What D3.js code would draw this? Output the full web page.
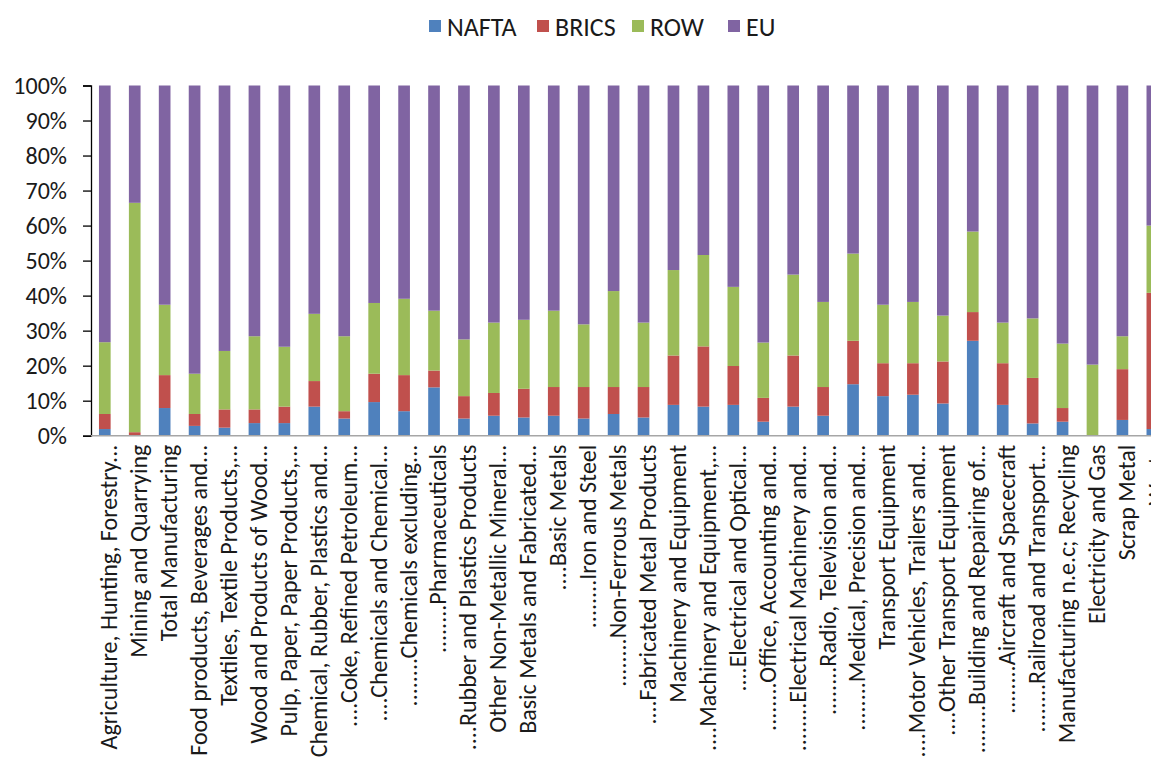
<!DOCTYPE html>
<html>
<head>
<meta charset="utf-8">
<script src="https://cdn.jsdelivr.net/npm/d3@7"></script>
<style>
  html, body { margin: 0; padding: 0; background: #fff; overflow: hidden; }
  svg { display: block; font-family: Calibri, Carlito, "Open Sans", sans-serif; }
</style>
</head>
<body>
<svg id="chart" width="1151" height="764"></svg>
<script>
const categories = [
  "Agriculture, Hunting, Forestry...",
  "Mining and Quarrying",
  "Total Manufacturing",
  "Food products, Beverages and...",
  "Textiles, Textile Products,...",
  "Wood and Products of Wood...",
  "Pulp, Paper, Paper Products,...",
  "Chemical, Rubber, Plastics and...",
  "....Coke, Refined Petroleum...",
  "....Chemicals and Chemical...",
  "........Chemicals excluding...",
  "........Pharmaceuticals",
  "....Rubber and Plastics Products",
  "Other Non-Metallic Mineral...",
  "Basic Metals and Fabricated...",
  "....Basic Metals",
  "........Iron and Steel",
  "........Non-Ferrous Metals",
  "....Fabricated Metal Products",
  "Machinery and Equipment",
  "....Machinery and Equipment,...",
  "....Electrical and Optical...",
  "........Office, Accounting and...",
  "........Electrical Machinery and...",
  "........Radio, Television and...",
  "........Medical, Precision and...",
  "Transport Equipment",
  "....Motor Vehicles, Trailers and...",
  "....Other Transport Equipment",
  "........Building and Repairing of...",
  "........Aircraft and Spacecraft",
  "........Railroad and Transport...",
  "Manufacturing n.e.c; Recycling",
  "Electricity and Gas",
  "Scrap Metal",
  "Waste"
];
const seriesNames = ["NAFTA", "BRICS", "ROW", "EU"];
const seriesColors = ["#4F81BD", "#C0504D", "#9BBB59", "#8064A2"];

// shares in percent
const NAFTA = [1.9, 0.0, 7.9, 2.8, 2.3, 3.6, 3.6, 8.3, 4.9, 9.6, 7.0, 13.8, 4.9, 5.7, 5.2, 5.7, 4.9, 6.2, 5.2, 8.8, 8.3, 8.8, 4.0, 8.3, 5.7, 14.7, 11.3, 11.7, 9.2, 27.1, 8.8, 3.5, 4.0, 0.0, 4.5, 1.9];
const BRICS = [4.3, 1.0, 9.4, 3.4, 5.2, 3.9, 4.7, 7.3, 2.1, 8.1, 10.3, 4.8, 6.4, 6.5, 8.2, 8.2, 9.0, 7.7, 8.7, 14.1, 17.2, 11.1, 6.8, 14.6, 8.2, 12.4, 9.4, 9.0, 12.0, 8.2, 11.9, 13.0, 3.9, 0.0, 14.5, 38.9];
const ROW = [20.5, 65.5, 20.1, 11.5, 16.7, 20.9, 17.1, 19.2, 21.4, 20.2, 21.8, 17.1, 16.2, 20.1, 19.7, 21.8, 17.9, 27.4, 18.4, 24.4, 26.1, 22.6, 15.8, 23.1, 24.3, 24.9, 16.7, 17.5, 13.1, 23.0, 11.6, 17.0, 18.4, 20.3, 9.4, 19.2];
const EU = [73.3, 33.5, 62.6, 82.3, 75.8, 71.6, 74.6, 65.2, 71.6, 62.1, 60.9, 64.3, 72.5, 67.7, 66.9, 64.3, 68.2, 58.7, 67.7, 52.7, 48.4, 57.5, 73.4, 54.0, 61.8, 48.0, 62.6, 61.8, 65.7, 41.7, 67.7, 66.5, 73.7, 79.7, 71.6, 40.0];
const yTicks = [0, 10, 20, 30, 40, 50, 60, 70, 80, 90, 100];

const seriesValues = [NAFTA, BRICS, ROW, EU];
const rows = categories.map((c, i) => {
  const r = { cat: c };
  seriesNames.forEach((s, k) => r[s] = seriesValues[k][i]);
  return r;
});
const stacked = d3.stack().keys(seriesNames).offset(d3.stackOffsetExpand)(rows);

const svg = d3.select("#chart");
const mLeft = 91, mTop = 85.5, mBottom = 435.7, step = 29.93;
const pIn = 0.61, pOut = 0.266;
const xEnd = mLeft + step * (categories.length - pIn + 2 * pOut);

const x = d3.scaleBand()
  .domain(categories)
  .range([mLeft, xEnd])
  .paddingInner(pIn).paddingOuter(pOut);
const y = d3.scaleLinear().domain([0, 1]).range([mBottom, mTop]);

// bars
svg.append("g").selectAll("g")
  .data(stacked).join("g")
  .attr("fill", (d, i) => seriesColors[i])
  .selectAll("rect")
  .data(d => d).join("rect")
  .attr("x", d => x(d.data.cat))
  .attr("width", x.bandwidth())
  .attr("y", d => y(d[1]))
  .attr("height", d => Math.max(0, y(d[0]) - y(d[1])));

// y axis
const yAxis = d3.axisLeft(y)
  .tickValues(yTicks.map(v => v / 100))
  .tickFormat(d => Math.round(d * 100) + "%")
  .tickSize(8).tickPadding(16);
const gy = svg.append("g").attr("transform", `translate(${mLeft},0)`).call(yAxis);
gy.select(".domain").attr("stroke", "#000").attr("stroke-width", 1.3);
gy.selectAll(".tick line").attr("stroke", "#000").attr("stroke-width", 1.3);
gy.selectAll(".tick text").attr("font-size", 24).attr("fill", "#1a1a1a")
  .attr("font-family", "Calibri, Carlito, 'Open Sans', sans-serif");

// x axis
const xAxis = d3.axisBottom(x).tickSize(0).tickPadding(10);
const gx = svg.append("g").attr("transform", `translate(0,${mBottom})`).call(xAxis);
gx.select(".domain").attr("stroke", "#a6a6a6").attr("stroke-width", 1.5)
  .attr("d", `M${mLeft},0H${xEnd}`);
gx.selectAll(".tick text")
  .attr("font-size", 24)
  .attr("fill", "#1a1a1a")
  .attr("font-family", "Calibri, Carlito, 'Open Sans', sans-serif")
  .attr("text-anchor", "end")
  .attr("transform", "rotate(-90)")
  .attr("x", -9)
  .attr("y", 4)
  .attr("dy", "0.35em");

// legend
const legendX = [429, 537, 632, 728];
const lg = svg.append("g");
seriesNames.forEach((s, i) => {
  lg.append("rect").attr("x", legendX[i]).attr("y", 20).attr("width", 12).attr("height", 12)
    .attr("fill", seriesColors[i]);
  lg.append("text").attr("x", legendX[i] + 18).attr("y", 26.5).attr("dy", "0.35em")
    .attr("font-size", 26).attr("fill", "#1a1a1a").text(s);
});
</script>
</body>
</html>
